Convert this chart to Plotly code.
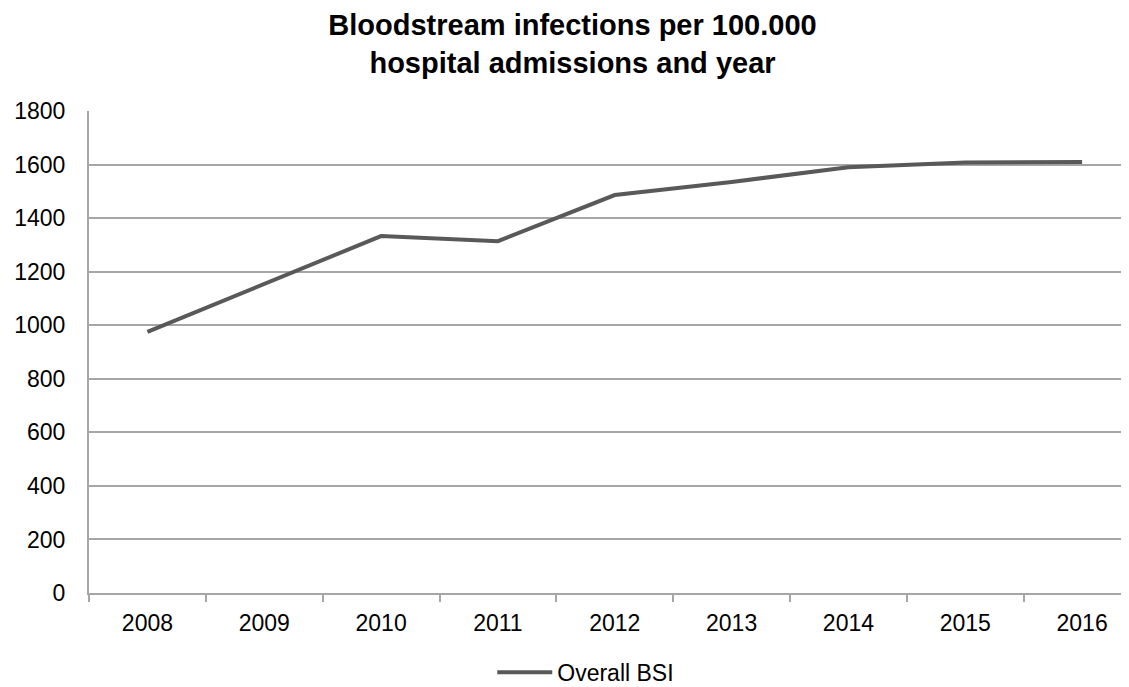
import plotly.graph_objects as go

years = ["2008", "2009", "2010", "2011", "2012", "2013", "2014", "2015", "2016"]
overall_bsi = [975, 1155, 1333, 1314, 1486, 1535, 1590, 1608, 1610]
y_ticks = [0, 200, 400, 600, 800, 1000, 1200, 1400, 1600, 1800]

FONT = "Liberation Sans, Arial, sans-serif"
GRID = "#a6a6a6"

fig = go.Figure()
fig.add_trace(go.Scatter(
    x=years, y=overall_bsi, mode="lines", name="Overall BSI",
    line=dict(color="#595959", width=4),
))

fig.update_layout(
    width=1129, height=687,
    paper_bgcolor="white", plot_bgcolor="white",
    margin=dict(l=81, r=0, t=103, b=102),
    title=dict(
        text="<b>Bloodstream infections per 100.000<br>hospital admissions and year</b>",
        x=0.5, xanchor="center", y=1 - 27 / 687, yanchor="middle",
        font=dict(family=FONT, size=29, color="black"),
    ),
    font=dict(family=FONT, size=23, color="black"),
    showlegend=True,
    legend=dict(
        orientation="h", x=0.474, xanchor="center", y=-0.12, yanchor="top",
        font=dict(family=FONT, size=23, color="black"),
        itemwidth=55,
    ),
    xaxis=dict(
        type="category",
        range=[-0.5, 8.47],
        automargin=False,
        showgrid=False,
        showline=True, linecolor=GRID, linewidth=2,
        ticks="outside", tickson="boundaries", ticklen=7, tickcolor=GRID, tickwidth=1.5,
        ticklabelstandoff=8,
        tickfont=dict(family=FONT, size=23, color="black"),
    ),
    yaxis=dict(
        range=[0, 1800], tickvals=y_ticks,
        automargin=False,
        showgrid=True, gridcolor=GRID, gridwidth=1.5,
        showline=True, linecolor=GRID, linewidth=2,
        ticks="", ticklabelstandoff=17,
        tickfont=dict(family=FONT, size=23, color="black"),
        zeroline=False,
    ),
)

fig.write_html("out.html")
